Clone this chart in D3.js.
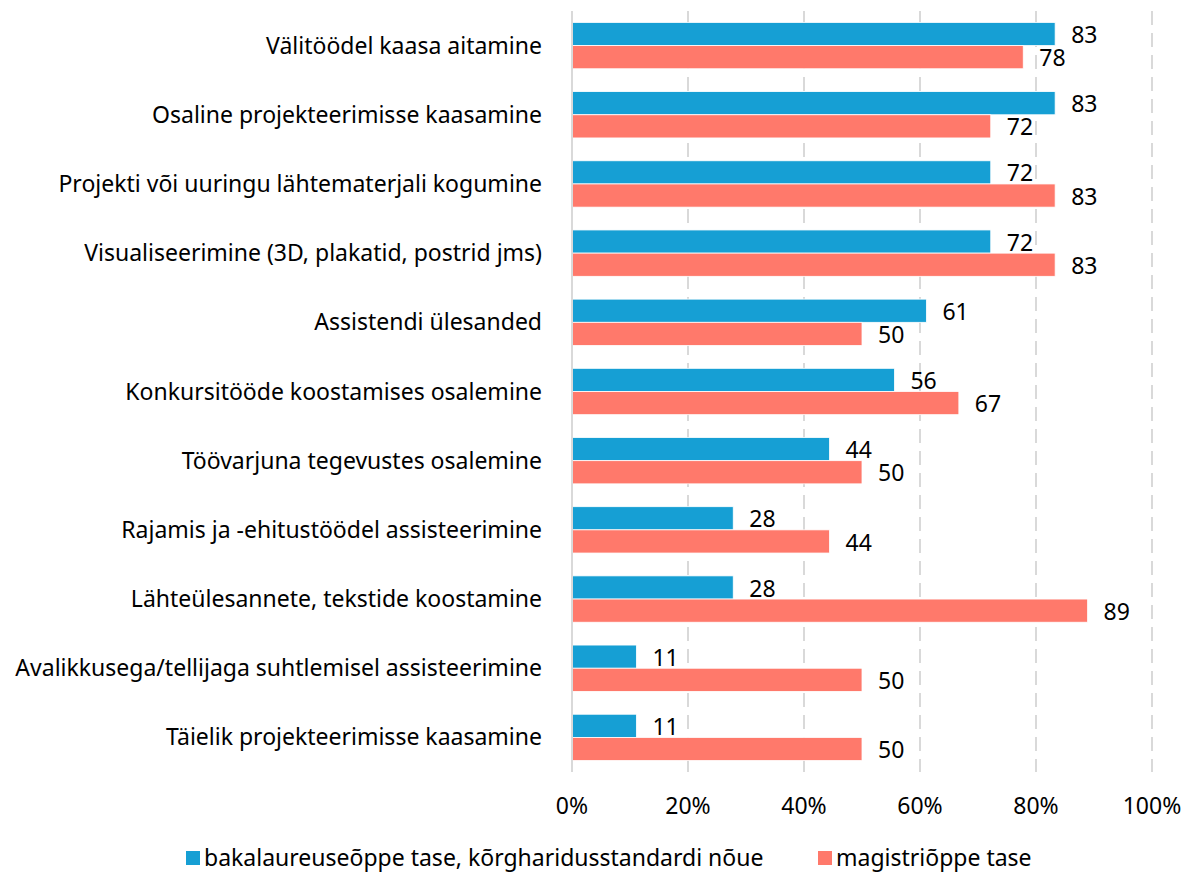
<!DOCTYPE html>
<html>
 <head>
    <style>
        body { margin: 0; background: #fff; }
        svg { display: block; }
        text { font-family: "Noto Sans", sans-serif; fill: #000; }
    </style>
    <script src="https://d3js.org/d3.v7.min.js"></script>
 </head>
 <body>
    <div id="chart"></div>
    <script type="text/javascript">
        const categories = [
            "Välitöödel kaasa aitamine",
            "Osaline projekteerimisse kaasamine",
            "Projekti või uuringu lähtematerjali kogumine",
            "Visualiseerimine (3D, plakatid, postrid jms)",
            "Assistendi ülesanded",
            "Konkursitööde koostamises osalemine",
            "Töövarjuna tegevustes osalemine",
            "Rajamis ja -ehitustöödel assisteerimine",
            "Lähteülesannete, tekstide koostamine",
            "Avalikkusega/tellijaga suhtlemisel assisteerimine",
            "Täielik projekteerimisse kaasamine"
        ];
        const seriesNames = ["bakalaureuseõppe tase, kõrgharidusstandardi nõue", "magistriõppe tase"];
        const bakalaureus = [83.3, 83.3, 72.2, 72.2, 61.1, 55.6, 44.4, 27.8, 27.8, 11.1, 11.1];
        const magister = [77.8, 72.2, 83.3, 83.3, 50, 66.7, 50, 44.4, 88.9, 50, 50];
        const ticks = [0, 20, 40, 60, 80, 100];
        const colors = ["#169fd4", "#ff796b"];

        const W = 1194, H = 872;
        const fs = 23;
        const svg = d3.select("#chart").append("svg").attr("width", W).attr("height", H);

        const x = d3.scaleLinear().domain([0, 100]).range([572, 1152]);
        const y = d3.scaleBand().domain(categories).range([11, 772]).paddingInner(0.33).paddingOuter(0.165);
        const sub = d3.scaleBand().domain([0, 1]).range([0, y.bandwidth()]);

        // gridlines
        svg.append("g").selectAll("line").data(ticks.slice(1)).join("line")
            .attr("x1", d => x(d)).attr("x2", d => x(d))
            .attr("y1", 11).attr("y2", 772)
            .attr("stroke", "#d9d9d9").attr("stroke-width", 2)
            .attr("stroke-dasharray", "14,8");

        const rows = categories.map((c, i) => ({ c, vals: [bakalaureus[i], magister[i]] }));

        const g = svg.append("g").selectAll("g").data(rows).join("g")
            .attr("transform", d => `translate(0,${y(d.c)})`);

        g.selectAll("rect").data(d => d.vals).join("rect")
            .attr("x", x(0))
            .attr("y", (d, j) => sub(j))
            .attr("width", d => x(d) - x(0))
            .attr("height", sub.bandwidth())
            .attr("fill", (d, j) => colors[j])
            .attr("stroke", "#fff").attr("stroke-width", 0.8);

        g.selectAll("text.val").data(d => d.vals).join("text")
            .attr("class", "val")
            .attr("x", d => x(d) + 16)
            .attr("y", (d, j) => sub(j) + sub.bandwidth() / 2 + 1)
            .attr("dy", "0.35em")
            .attr("font-size", fs)
            .text(d => Math.round(d));

        // axis line at 0
        svg.append("line")
            .attr("x1", x(0)).attr("x2", x(0)).attr("y1", 11).attr("y2", 772)
            .attr("stroke", "#d9d9d9").attr("stroke-width", 2);

        // category labels
        svg.append("g").selectAll("text").data(categories).join("text")
            .attr("x", 542)
            .attr("y", d => y(d) + y.bandwidth() / 2)
            .attr("dy", "0.35em")
            .attr("text-anchor", "end")
            .attr("font-size", fs)
            .text(d => d);

        // x tick labels
        svg.append("g").selectAll("text").data(ticks).join("text")
            .attr("x", d => x(d))
            .attr("y", 806)
            .attr("dy", "0.35em")
            .attr("text-anchor", "middle")
            .attr("font-size", fs)
            .text(d => d + "%");

        // legend
        const legendX = [186, 818];
        const lg = svg.append("g").selectAll("g").data(seriesNames).join("g")
            .attr("transform", (d, i) => `translate(${legendX[i]},851)`);
        lg.append("rect").attr("width", 14).attr("height", 14).attr("fill", (d, i) => colors[i]);
        lg.append("text").attr("x", 18).attr("y", 7).attr("dy", "0.35em")
            .attr("font-size", fs).text(d => d);
    </script>
 </body>
</html>
